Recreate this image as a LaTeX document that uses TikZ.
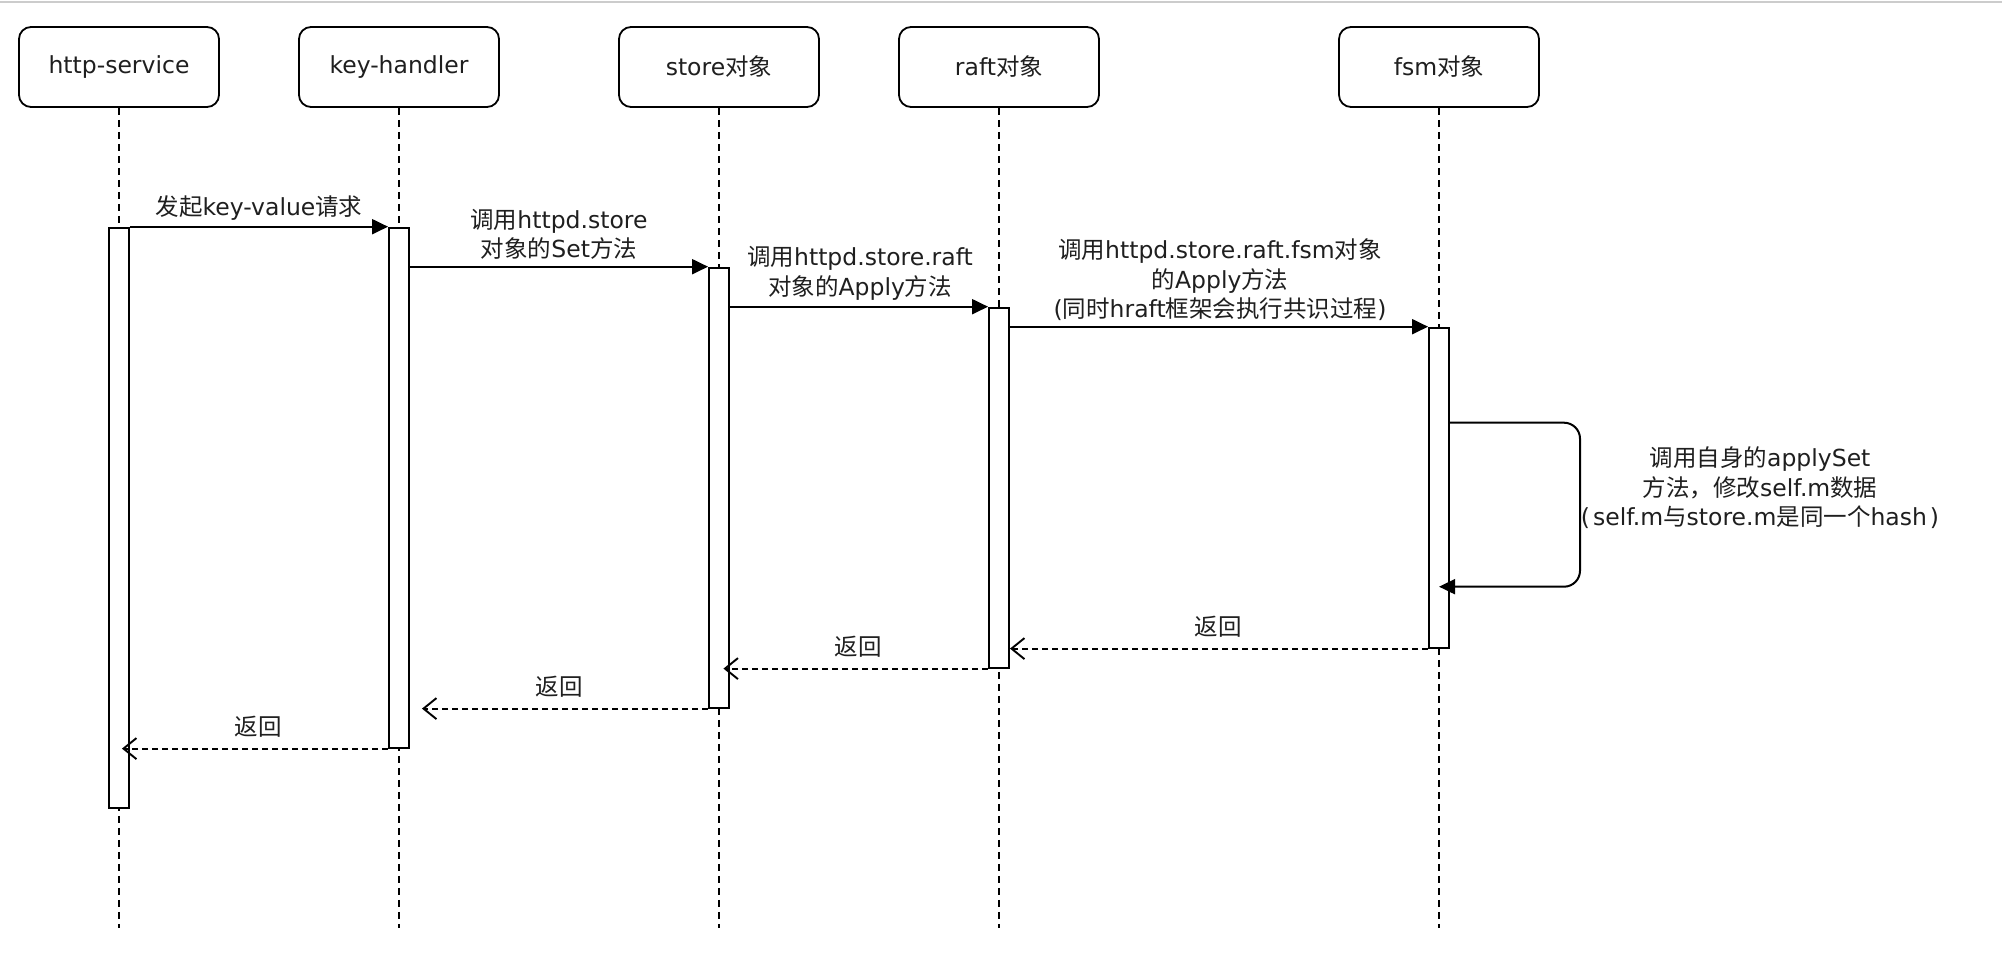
\documentclass[tikz,border=0pt]{standalone}
\usepackage{fontspec}
\setmainfont{DejaVu Sans}
\newfontfamily\cjkfont{Noto Sans CJK SC}
\newcommand{\zh}[1]{{\cjkfont #1}}
\usetikzlibrary{arrows.meta,calc}

\begin{document}
\begin{tikzpicture}[x=1pt,y=-1pt,
  every node/.style={font=\fontsize{23.5}{29.5}\selectfont, text=black!88},
  actor/.style={draw, line width=1.8pt, rounded corners=12pt,
    minimum width=200pt, minimum height=80pt, inner sep=0pt},
  lifeline/.style={line width=1.3pt, dash pattern=on 7pt off 5pt},
  actbar/.style={draw, fill=white, line width=1.9pt, minimum width=20pt,
    inner sep=0pt, anchor=north},
  call/.style={line width=2pt, -{Triangle[length=16pt,width=15pt]}},
  ret/.style={line width=2pt, dash pattern=on 6pt off 4pt,
    -{Straight Barb[length=13pt,width=21pt,line width=1.9pt]}},
  msg/.style={align=center, inner sep=0pt}
]
% canvas
\fill[white] (0,0) rectangle (2002,968);
\useasboundingbox (0,0) rectangle (2002,968);
\draw[black!20, line width=2pt] (0,2.5) -- (2002,2.5);

% participants
\node[actor] (hs) at (119,67) {http-service};
\node[actor] (kh) at (399,67) {key-handler};
\node[actor] (st) at (719,67) {store\zh{对象}};
\node[actor] (rf) at (999,67) {raft\zh{对象}};
\node[actor] (fs) at (1439,67) {fsm\zh{对象}};

% lifeline ends
\coordinate (hsE) at (119,928);
\coordinate (khE) at (399,928);
\coordinate (stE) at (719,928);
\coordinate (rfE) at (999,928);
\coordinate (fsE) at (1439,928);

\draw[lifeline] (hs.south) -- (hsE);
\draw[lifeline] (kh.south) -- (khE);
\draw[lifeline] (st.south) -- (stE);
\draw[lifeline] (rf.south) -- (rfE);
\draw[lifeline] (fs.south) -- (fsE);

% activation bars
\node[actbar, minimum height=580pt] (hb) at (119,226.7) {};
\node[actbar, minimum height=520pt] (kb) at (399,226.7) {};
\node[actbar, minimum height=440pt] (sb) at (719,266.7) {};
\node[actbar, minimum height=360pt] (rb) at (999,306.7) {};
\node[actbar, minimum height=320pt] (fb) at (1439,326.7) {};

% calls
\draw[call] (hb.north east) -- (kb.north west);
\draw[call] (kb.east |- sb.north) -- (sb.north west);
\draw[call] (sb.east |- rb.north) -- (rb.north west);
\draw[call] (rb.east |- fb.north) -- (fb.north west);

\node[msg] (m1) at (259,208) {\zh{发起}key-value\zh{请求}};
\node[msg] (m2) at (559,234.5) {\zh{调用}httpd.store\\\zh{对象的}Set\zh{方法}};
\node[msg] (m3) at (860,273.5) {\zh{调用}httpd.store.raft\\\zh{对象的}Apply\zh{方法}};
\node[msg] (m4) at (1220,280) {\zh{调用}httpd.store.raft.fsm\zh{对象}\\\zh{的}Apply\zh{方法}\\(\zh{同时}hraft\zh{框架会执行共识过程})};

% self call on the fsm
\coordinate (selfA) at (1580,422.7);
\coordinate (selfB) at (1580,586.7);
\coordinate (selfT) at (1439,586.7);
\draw[call, rounded corners=16pt] (fb.east |- selfA) -- (selfA) -- (selfB) -- (selfT);
\node[msg] (m5) at (1760,488) {\zh{调用自身的}applySet\\\zh{方法，修改}self.m\zh{数据}\\(\hspace{3pt}self.m\zh{与}store.m\zh{是同一个}hash\hspace{3pt})};

% returns
\coordinate (t1) at (rb.east |- fb.south);
\coordinate (t2) at ($(sb.east |- rb.south)+(-6.5,0)$);
\coordinate (t3) at ($(kb.east |- sb.south)+(12,0)$);
\coordinate (t4) at ($(hb.east |- kb.south)+(-8,0)$);
\draw[ret] (fb.south west) -- (t1);
\draw[ret] (rb.south west) -- (t2);
\draw[ret] (sb.south west) -- (t3);
\draw[ret] (kb.south west) -- (t4);

\node[msg] (r1) at (1218,627) {\zh{返回}};
\node[msg] (r2) at (858,647) {\zh{返回}};
\node[msg] (r3) at (559,687) {\zh{返回}};
\node[msg] (r4) at (258,727) {\zh{返回}};
\end{tikzpicture}
\end{document}
